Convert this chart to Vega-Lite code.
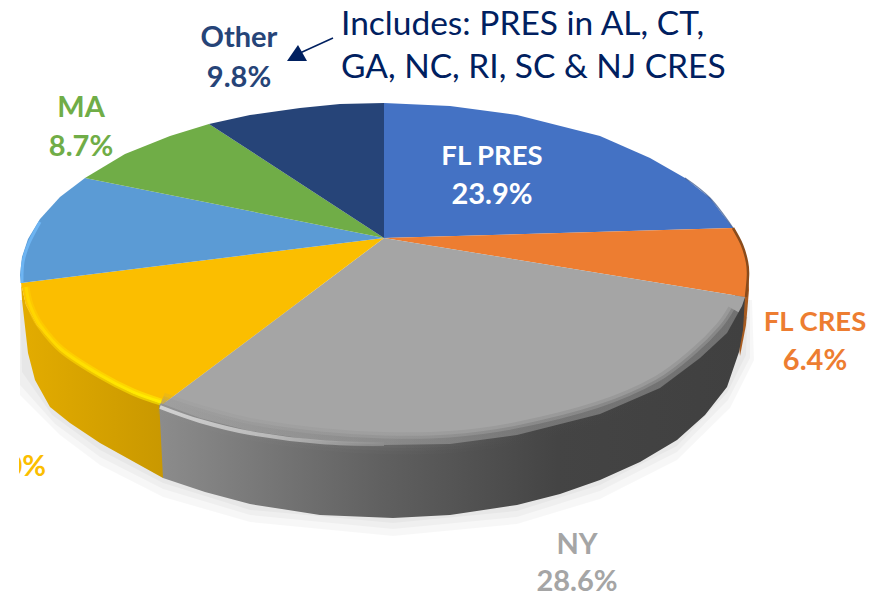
{"$schema":"https://vega.github.io/schema/vega-lite/v6.json","width":877,"height":597,"padding":0,"autosize":{"type":"none"},"background":"white","config":{"view":{"stroke":null}},
"datasets":{
"top":[
{"slice":"FL PRES","i":0,"x":384,"y":238},{"slice":"FL PRES","i":1,"x":384,"y":103},{"slice":"FL PRES","i":2,"x":450,"y":106},{"slice":"FL PRES","i":3,"x":517,"y":115},{"slice":"FL PRES","i":4,"x":600,"y":136},{"slice":"FL PRES","i":5,"x":650,"y":158},{"slice":"FL PRES","i":6,"x":685,"y":178},{"slice":"FL PRES","i":7,"x":710,"y":198},{"slice":"FL PRES","i":8,"x":733,"y":228},
{"slice":"FL CRES","i":0,"x":384,"y":238},{"slice":"FL CRES","i":1,"x":733,"y":228},{"slice":"FL CRES","i":2,"x":742,"y":245},{"slice":"FL CRES","i":3,"x":747,"y":262},{"slice":"FL CRES","i":4,"x":748,"y":275},{"slice":"FL CRES","i":5,"x":747,"y":285},{"slice":"FL CRES","i":6,"x":745,"y":297},
{"slice":"NY","i":0,"x":384,"y":238},{"slice":"NY","i":1,"x":745,"y":297},{"slice":"NY","i":2,"x":742,"y":306},{"slice":"NY","i":3,"x":727,"y":333},{"slice":"NY","i":4,"x":700,"y":358},{"slice":"NY","i":5,"x":660,"y":388},{"slice":"NY","i":6,"x":600,"y":414},{"slice":"NY","i":7,"x":517,"y":435},{"slice":"NY","i":8,"x":450,"y":444},{"slice":"NY","i":9,"x":384,"y":445},{"slice":"NY","i":10,"x":320,"y":441},{"slice":"NY","i":11,"x":250,"y":431},{"slice":"NY","i":12,"x":200,"y":418},{"slice":"NY","i":13,"x":163,"y":404},
{"slice":"Yellow","i":0,"x":384,"y":238},{"slice":"Yellow","i":1,"x":163,"y":404},{"slice":"Yellow","i":2,"x":133,"y":393},{"slice":"Yellow","i":3,"x":100,"y":376},{"slice":"Yellow","i":4,"x":60,"y":350},{"slice":"Yellow","i":5,"x":37,"y":325},{"slice":"Yellow","i":6,"x":26,"y":305},{"slice":"Yellow","i":7,"x":21,"y":283},
{"slice":"Light blue","i":0,"x":384,"y":238},{"slice":"Light blue","i":1,"x":21,"y":283},{"slice":"Light blue","i":2,"x":20,"y":275},{"slice":"Light blue","i":3,"x":22,"y":257},{"slice":"Light blue","i":4,"x":28,"y":239},{"slice":"Light blue","i":5,"x":40,"y":219},{"slice":"Light blue","i":6,"x":60,"y":197},{"slice":"Light blue","i":7,"x":85,"y":178},
{"slice":"MA","i":0,"x":384,"y":238},{"slice":"MA","i":1,"x":85,"y":178},{"slice":"MA","i":2,"x":125,"y":154},{"slice":"MA","i":3,"x":170,"y":136},{"slice":"MA","i":4,"x":209,"y":124},
{"slice":"Other","i":0,"x":384,"y":238},{"slice":"Other","i":1,"x":209,"y":124},{"slice":"Other","i":2,"x":250,"y":115},{"slice":"Other","i":3,"x":300,"y":108},{"slice":"Other","i":4,"x":340,"y":104},{"slice":"Other","i":5,"x":384,"y":103}],
"shadow":[
{"s":"a","i":0,"x":20,"y":300},{"s":"a","i":1,"x":20,"y":395},{"s":"a","i":2,"x":60,"y":435},{"s":"a","i":3,"x":100,"y":465},{"s":"a","i":4,"x":163,"y":497},{"s":"a","i":5,"x":250,"y":522},{"s":"a","i":6,"x":393,"y":536},{"s":"a","i":7,"x":517,"y":524},{"s":"a","i":8,"x":600,"y":499},{"s":"a","i":9,"x":677,"y":460},{"s":"a","i":10,"x":730,"y":408},{"s":"a","i":11,"x":754,"y":360},{"s":"a","i":12,"x":752,"y":300},
{"s":"b","i":0,"x":20,"y":300},{"s":"b","i":1,"x":20,"y":385},{"s":"b","i":2,"x":55,"y":424},{"s":"b","i":3,"x":100,"y":457},{"s":"b","i":4,"x":163,"y":489},{"s":"b","i":5,"x":250,"y":515},{"s":"b","i":6,"x":393,"y":529},{"s":"b","i":7,"x":517,"y":517},{"s":"b","i":8,"x":600,"y":491},{"s":"b","i":9,"x":677,"y":452},{"s":"b","i":10,"x":728,"y":400},{"s":"b","i":11,"x":750,"y":358},{"s":"b","i":12,"x":750,"y":300},
{"s":"c","i":0,"x":20,"y":300},{"s":"c","i":1,"x":22,"y":372},{"s":"c","i":2,"x":52,"y":415},{"s":"c","i":3,"x":100,"y":450},{"s":"c","i":4,"x":163,"y":483},{"s":"c","i":5,"x":250,"y":510},{"s":"c","i":6,"x":393,"y":523},{"s":"c","i":7,"x":517,"y":511},{"s":"c","i":8,"x":600,"y":485},{"s":"c","i":9,"x":677,"y":446},{"s":"c","i":10,"x":727,"y":393},{"s":"c","i":11,"x":746,"y":355},{"s":"c","i":12,"x":748,"y":300}],
"wallOrange":[{"i":0,"x":733,"y":228},{"i":1,"x":748,"y":265},{"i":2,"x":749,"y":290},{"i":3,"x":746,"y":325},{"i":4,"x":740,"y":356},{"i":5,"x":735,"y":300}],
"wallYellow":[{"i":0,"x":21,"y":283},{"i":1,"x":26,"y":305},{"i":2,"x":37,"y":325},{"i":3,"x":60,"y":350},{"i":4,"x":100,"y":376},{"i":5,"x":133,"y":393},{"i":6,"x":163,"y":404},{"i":7,"x":163,"y":478},{"i":8,"x":100,"y":443},{"i":9,"x":70,"y":423},{"i":10,"x":50,"y":407},{"i":11,"x":35,"y":380},{"i":12,"x":28,"y":353},{"i":13,"x":22,"y":300}],
"wallGray":[{"i":0,"x":159,"y":400},{"i":1,"x":250,"y":425},{"i":2,"x":384,"y":440},{"i":3,"x":600,"y":410},{"i":4,"x":727,"y":328},{"i":5,"x":745,"y":297},{"i":6,"x":743,"y":330},{"i":7,"x":739,"y":352},{"i":8,"x":727,"y":387},{"i":9,"x":705,"y":415},{"i":10,"x":677,"y":440},{"i":11,"x":640,"y":462},{"i":12,"x":600,"y":480},{"i":13,"x":560,"y":494},{"i":14,"x":517,"y":505},{"i":15,"x":450,"y":515},{"i":16,"x":393,"y":518},{"i":17,"x":320,"y":515},{"i":18,"x":250,"y":504},{"i":19,"x":205,"y":492},{"i":20,"x":163,"y":478}],
"rimGray":[{"i":0,"x":161,"y":403},{"i":1,"x":200,"y":416},{"i":2,"x":250,"y":429},{"i":3,"x":320,"y":439},{"i":4,"x":384,"y":443},{"i":5,"x":450,"y":442},{"i":6,"x":517,"y":433},{"i":7,"x":600,"y":412},{"i":8,"x":660,"y":386},{"i":9,"x":700,"y":356},{"i":10,"x":725,"y":331},{"i":11,"x":738,"y":312}],
"rimGrayHi":[{"i":0,"x":160,"y":407},{"i":1,"x":200,"y":421},{"i":2,"x":250,"y":433},{"i":3,"x":320,"y":442},{"i":4,"x":384,"y":444}],
"rimYellow":[{"i":0,"x":26,"y":287},{"i":1,"x":30,"y":305},{"i":2,"x":40,"y":325},{"i":3,"x":62,"y":350},{"i":4,"x":100,"y":375},{"i":5,"x":133,"y":392},{"i":6,"x":161,"y":402}],
"rimBlue":[{"i":0,"x":22,"y":283},{"i":1,"x":23,"y":262},{"i":2,"x":29,"y":243},{"i":3,"x":40,"y":222}],
"rimNavy":[{"i":0,"x":685,"y":178},{"i":1,"x":710,"y":198},{"i":2,"x":733,"y":228}],
"rimBrown":[{"i":0,"x":733,"y":228},{"i":1,"x":742,"y":245},{"i":2,"x":747,"y":262},{"i":3,"x":748,"y":275},{"i":4,"x":746,"y":297}],
"arrowHead":[{"i":0,"x":287,"y":61},{"i":1,"x":298,"y":45},{"i":2,"x":307,"y":61}],
"arrowLine":[{"i":0,"x":333,"y":38},{"i":1,"x":300,"y":53}],
"mask":[{"x":0,"x2":19,"y":440,"y2":495}],
"labels":[
{"slice":"Other","text":"Other","x":239,"y":38},{"slice":"Other","text":"9.8%","x":239,"y":78},
{"slice":"MA","text":"MA","x":81,"y":108},{"slice":"MA","text":"8.7%","x":81,"y":147},
{"slice":"FL PRES label","text":"23.9%","x":492,"y":195},
{"slice":"FL CRES","text":"6.4%","x":815,"y":361},
{"slice":"NY","text":"NY","x":577,"y":545},{"slice":"NY","text":"28.6%","x":577,"y":582}],
"labelsLong":[{"slice":"FL PRES label","text":"FL PRES","x":492,"y":157},{"slice":"FL CRES","text":"FL CRES","x":815,"y":323}],
"clipped":[{"slice":"Yellow","text":"0%","x":46,"y":467}],
"note":[{"text":"Includes: PRES in AL, CT,","x":341,"y":25},{"text":"GA, NC, RI, SC & NJ CRES","x":341,"y":68}]
},
"encoding":{
"x":{"field":"x","type":"quantitative","axis":null,"scale":{"domain":[0,877],"range":[0,877],"nice":false,"zero":false}},
"y":{"field":"y","type":"quantitative","axis":null,"scale":{"domain":[0,597],"range":[0,597],"nice":false,"zero":false}}
},
"layer":[
{"data":{"name":"shadow"},"mark":{"type":"line","filled":true,"fill":"#000000","fillOpacity":0.03,"strokeWidth":0},"encoding":{"detail":{"field":"s"},"order":{"field":"i","type":"quantitative"}}},
{"data":{"name":"wallOrange"},"mark":{"type":"line","filled":true,"fill":"#A85C20","strokeWidth":0},"encoding":{"order":{"field":"i","type":"quantitative"}}},
{"data":{"name":"wallYellow"},"mark":{"type":"line","filled":true,"strokeWidth":0,"fill":{"gradient":"linear","x1":0,"y1":0,"x2":1,"y2":0,"stops":[{"offset":0,"color":"#E3AC00"},{"offset":1,"color":"#C99800"}]}},"encoding":{"order":{"field":"i","type":"quantitative"}}},
{"data":{"name":"wallGray"},"mark":{"type":"line","filled":true,"strokeWidth":0,"fill":{"gradient":"linear","x1":0,"y1":0,"x2":1,"y2":0,"stops":[{"offset":0,"color":"#8C8C8C"},{"offset":0.38,"color":"#606060"},{"offset":0.68,"color":"#444444"},{"offset":1,"color":"#404040"}]}},"encoding":{"order":{"field":"i","type":"quantitative"}}},
{"data":{"name":"top"},"mark":{"type":"line","filled":true,"strokeWidth":0},"encoding":{"fill":{"field":"slice","type":"nominal","legend":null,"scale":{"domain":["FL PRES","FL CRES","NY","Yellow","Light blue","MA","Other","FL PRES label"],"range":["#4472C4","#ED7D31","#A5A5A5","#FBBE00","#5B9BD5","#70AD47","#264478","#FFFFFF"]}},"order":{"field":"i","type":"quantitative"}}},
{"data":{"name":"rimGray"},"mark":{"type":"line","interpolate":"cardinal","strokeWidth":22,"strokeOpacity":0.12,"strokeCap":"butt","stroke":{"gradient":"linear","x1":0,"y1":0,"x2":1,"y2":0,"stops":[{"offset":0,"color":"#909090"},{"offset":0.4,"color":"#707070"},{"offset":0.65,"color":"#484848"},{"offset":1,"color":"#404040"}]}},"encoding":{"order":{"field":"i","type":"quantitative"}}},
{"data":{"name":"rimGray"},"mark":{"type":"line","interpolate":"cardinal","strokeWidth":15,"strokeOpacity":0.2,"strokeCap":"butt","stroke":{"gradient":"linear","x1":0,"y1":0,"x2":1,"y2":0,"stops":[{"offset":0,"color":"#909090"},{"offset":0.4,"color":"#707070"},{"offset":0.65,"color":"#484848"},{"offset":1,"color":"#404040"}]}},"encoding":{"order":{"field":"i","type":"quantitative"}}},
{"data":{"name":"rimGray"},"mark":{"type":"line","interpolate":"cardinal","strokeWidth":9,"strokeOpacity":0.3,"strokeCap":"butt","stroke":{"gradient":"linear","x1":0,"y1":0,"x2":1,"y2":0,"stops":[{"offset":0,"color":"#A0A0A0"},{"offset":0.4,"color":"#707070"},{"offset":0.65,"color":"#484848"},{"offset":1,"color":"#404040"}]}},"encoding":{"order":{"field":"i","type":"quantitative"}}},
{"data":{"name":"rimGrayHi"},"mark":{"type":"line","interpolate":"cardinal","strokeWidth":4,"strokeCap":"butt","strokeOpacity":0.8,"stroke":{"gradient":"linear","x1":0,"y1":0,"x2":1,"y2":0,"stops":[{"offset":0,"color":"#E2E2E2"},{"offset":0.5,"color":"#C8C8C8"},{"offset":1,"color":"#8E8E8E"}]}},"encoding":{"order":{"field":"i","type":"quantitative"}}},
{"data":{"name":"rimYellow"},"mark":{"type":"line","interpolate":"cardinal","strokeWidth":7,"strokeOpacity":0.6,"strokeCap":"butt","stroke":{"gradient":"linear","x1":0,"y1":0,"x2":1,"y2":0,"stops":[{"offset":0,"color":"#FFCE00"},{"offset":1,"color":"#FFEE00"}]}},"encoding":{"order":{"field":"i","type":"quantitative"}}},
{"data":{"name":"rimYellow"},"mark":{"type":"line","interpolate":"cardinal","strokeWidth":3,"strokeCap":"butt","stroke":{"gradient":"linear","x1":0,"y1":0,"x2":1,"y2":0,"stops":[{"offset":0,"color":"#FFD500"},{"offset":1,"color":"#FFEE00"}]}},"encoding":{"order":{"field":"i","type":"quantitative"}}},
{"data":{"name":"rimBlue"},"mark":{"type":"line","interpolate":"cardinal","strokeWidth":3,"stroke":"#6DB4F2"},"encoding":{"order":{"field":"i","type":"quantitative"}}},
{"data":{"name":"rimNavy"},"mark":{"type":"line","interpolate":"cardinal","strokeWidth":1.2,"strokeOpacity":0.7,"stroke":"#2F4F88"},"encoding":{"order":{"field":"i","type":"quantitative"}}},
{"data":{"name":"rimBrown"},"mark":{"type":"line","interpolate":"cardinal","strokeWidth":2.5,"stroke":"#8A4B1B"},"encoding":{"order":{"field":"i","type":"quantitative"}}},
{"data":{"name":"arrowLine"},"mark":{"type":"line","strokeWidth":1.5,"stroke":"#002060"},"encoding":{"order":{"field":"i","type":"quantitative"}}},
{"data":{"name":"arrowHead"},"mark":{"type":"line","filled":true,"fill":"#002060","strokeWidth":0},"encoding":{"order":{"field":"i","type":"quantitative"}}},
{"data":{"name":"labels"},"mark":{"type":"text","font":"Lato","fontWeight":"bold","fontSize":29,"align":"center","baseline":"middle"},"encoding":{"text":{"field":"text"},"fill":{"field":"slice","type":"nominal","legend":null}}},
{"data":{"name":"labelsLong"},"mark":{"type":"text","font":"Lato","fontWeight":"bold","fontSize":27.5,"align":"center","baseline":"middle"},"encoding":{"text":{"field":"text"},"fill":{"field":"slice","type":"nominal","legend":null}}},
{"data":{"name":"clipped"},"mark":{"type":"text","font":"Lato","fontWeight":"bold","fontSize":29,"align":"right","baseline":"middle"},"encoding":{"text":{"field":"text"},"fill":{"field":"slice","type":"nominal","legend":null}}},
{"data":{"name":"mask"},"mark":{"type":"rect","fill":"white"},"encoding":{"x2":{"field":"x2"},"y2":{"field":"y2"}}},
{"data":{"name":"note"},"mark":{"type":"text","font":"Lato","fontSize":33.5,"align":"left","baseline":"middle","fill":"#002060"},"encoding":{"text":{"field":"text"}}}
]}
